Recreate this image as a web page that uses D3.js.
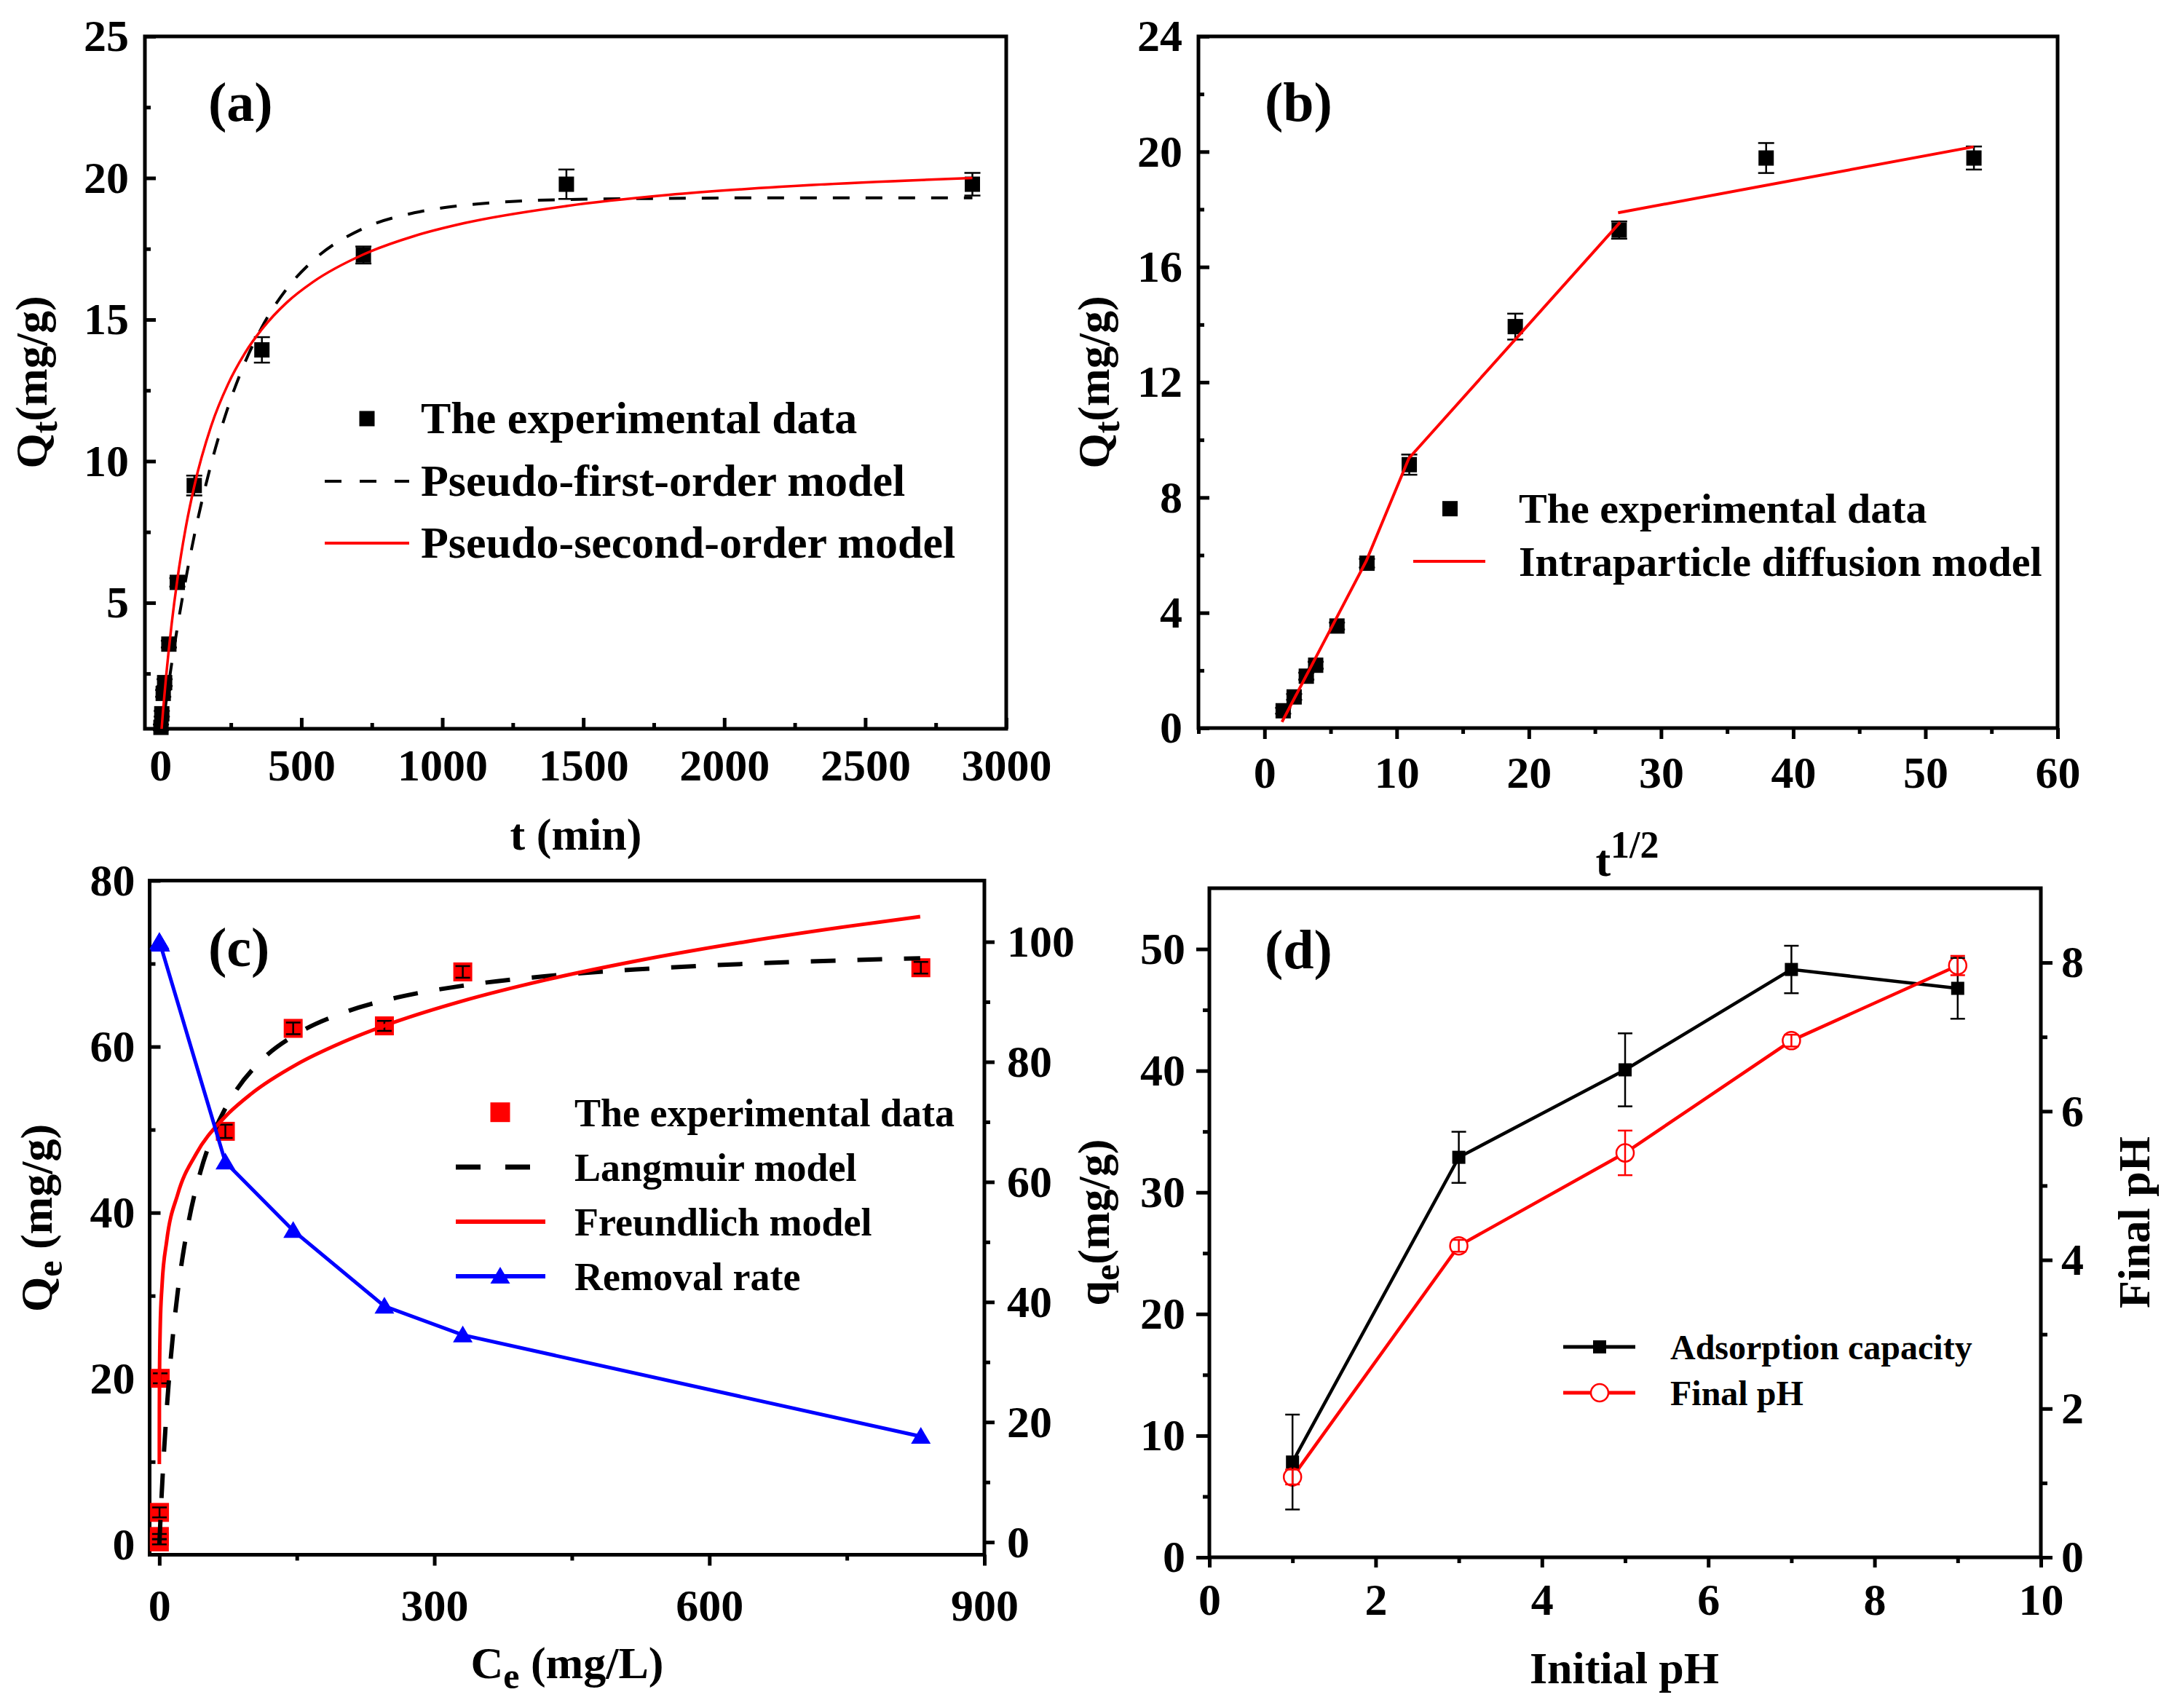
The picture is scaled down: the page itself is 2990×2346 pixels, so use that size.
<!DOCTYPE html>
<html><head><meta charset="utf-8">
<script src="https://cdn.jsdelivr.net/npm/d3@7"></script>
<style>
body{margin:0;background:#fff;}
svg{display:block;background:#fff;}
</style></head><body>
<svg id="fig" width="2990" height="2346"></svg>
<script>
// ================= DATA =================
// (a) kinetics
const kinT   = [2, 5, 10, 15, 30, 60, 120, 360, 720, 1440, 2880];
const kinQ   = [0.6, 1.08, 1.8, 2.18, 3.54, 5.72, 9.14, 13.93, 17.28, 19.78, 19.78];
const kinErr = [0.1, 0.1, 0.12, 0.12, 0.12, 0.15, 0.35, 0.45, 0.3, 0.52, 0.4];
const fitT   = [0, 10, 20, 40, 60, 90, 120, 180, 240, 300, 360, 450, 540, 720, 900, 1080, 1440, 1800, 2200, 2880];
const pfoQ   = [0, 0.76, 1.48, 2.85, 4.12, 5.83, 7.36, 9.90, 11.91, 13.49, 14.73, 16.11, 17.07, 18.22, 18.77, 19.04, 19.24, 19.28, 19.30, 19.30];
const psoQ   = [0, 1.26, 2.37, 4.26, 5.81, 7.66, 9.11, 11.24, 12.72, 13.82, 14.66, 15.62, 16.32, 17.30, 17.95, 18.41, 19.01, 19.40, 19.69, 20.00];
const aXTicks = [0, 500, 1000, 1500, 2000, 2500, 3000];
const aXMinor = [250, 750, 1250, 1750, 2250, 2750];
const aYTicks = [5, 10, 15, 20, 25];
const aYMinor = [2.5, 7.5, 12.5, 17.5, 22.5];

// (b) intraparticle diffusion
const sqrtT  = [1.41, 2.24, 3.16, 3.87, 5.48, 7.75, 10.95, 18.97, 26.83, 37.95, 53.67];
const ipd1X  = [1.32, 5.26, 7.7, 10.92, 26.9];
const ipd1Y  = [0.21, 3.66, 5.8, 9.36, 17.55];
const ipd2X  = [26.75, 53.65];
const ipd2Y  = [17.88, 20.17];
const bXTicks = [0, 10, 20, 30, 40, 50, 60];
const bXMinor = [-5, 5, 15, 25, 35, 45, 55];
const bYTicks = [0, 4, 8, 12, 16, 20, 24];
const bYMinor = [2, 6, 10, 14, 18, 22];

// (c) isotherm
const isoCe   = [0.02, 0.05, 0.2, 1.0, 72, 146, 245.5, 331, 830.7];
const isoQ    = [0.35, 1.0, 3.9, 20.05, 49.8, 62.2, 62.5, 69.0, 69.5];
const isoErr  = [0.3, 0.3, 0.6, 0.6, 0.8, 0.7, 0.6, 0.7, 0.7];
const removal = [100, 100, 99.9, 99.6, 63.3, 51.9, 39.3, 34.5, 17.6];
const langC   = [0, 1, 2, 4, 7, 10, 15, 20, 30, 45, 60, 80, 110, 150, 200, 260, 330, 420, 520, 640, 760, 830];
const langQ   = [0, 2.51, 4.86, 9.11, 14.58, 19.19, 25.44, 30.40, 37.74, 44.99, 49.77, 54.07, 58.20, 61.53, 64.05, 65.93, 67.32, 68.47, 69.30, 69.97, 70.44, 70.65];
const freuC   = [0.0017, 0.01, 0.05, 0.2, 1, 3, 8, 20, 40, 70, 100, 150, 200, 260, 330, 420, 520, 640, 760, 830];
const freuQ   = [9.71, 12.83, 16.50, 20.51, 26.39, 31.35, 36.56, 42.20, 47.05, 51.35, 54.30, 57.87, 60.53, 63.08, 65.48, 68.00, 70.31, 72.64, 74.62, 75.66];
const cXTicks = [0, 300, 600, 900];
const cXMinor = [150, 450, 750];
const cYTicks = [0, 20, 40, 60, 80];
const cYMinor = [10, 30, 50, 70];
const cY2Ticks = [0, 20, 40, 60, 80, 100];
const cY2Minor = [10, 30, 50, 70, 90];

// (d) pH effect
const pHinit   = [1, 3, 5, 7, 9];
const qeD      = [7.83, 32.88, 40.07, 48.32, 46.77];
const qeErr    = [3.9, 2.1, 3.0, 1.95, 2.5];
const finalPH  = [1.08, 4.19, 5.44, 6.95, 7.96];
const finalErr = [0.1, 0.08, 0.3, 0.08, 0.13];
const dXTicks = [0, 2, 4, 6, 8, 10];
const dXMinor = [1, 3, 5, 7, 9];
const dYTicks = [0, 10, 20, 30, 40, 50];
const dYMinor = [5, 15, 25, 35, 45];
const dY2Ticks = [0, 2, 4, 6, 8];
const dY2Minor = [1, 3, 5, 7];

// ================= DRAWING =================
const FONT = '"Times New Roman","Liberation Serif",serif';
const svg = d3.select("#fig");
const TICKFS = 62;

function styleAxis(a) {
  a.select(".domain").remove();
  a.attr("font-family", FONT).attr("font-size", TICKFS).attr("font-weight", "bold");
  a.selectAll("line").attr("stroke", "#000").attr("stroke-width", 5);
  a.selectAll("text").attr("fill", "#000");
}
function axis(g, gen, tr) {
  const a = g.append("g").attr("transform", tr).call(gen);
  styleAxis(a);
  return a;
}
function txt(g, x, y, s, fs, anchor) {
  return g.append("text").attr("x", x).attr("y", y).attr("font-family", FONT)
    .attr("font-weight", "bold").attr("font-size", fs).attr("text-anchor", anchor || "start")
    .attr("fill", "#000").text(s);
}
function makeClip(id, o) {
  svg.append("clipPath").attr("id", id).append("rect")
    .attr("x", o.x0).attr("y", o.y0).attr("width", o.x1 - o.x0).attr("height", o.y1 - o.y0);
}
function frame(g, o) {
  g.append("rect").attr("x", o.x0).attr("y", o.y0).attr("width", o.x1 - o.x0).attr("height", o.y1 - o.y0)
    .attr("fill", "none").attr("stroke", "#000").attr("stroke-width", 5);
}
function squares(g, xs, ys, sz, fill) {
  g.selectAll(null).data(xs.map((d, i) => [d, ys[i]])).enter().append("rect")
    .attr("x", d => d[0] - sz / 2).attr("y", d => d[1] - sz / 2)
    .attr("width", sz).attr("height", sz).attr("fill", fill);
}
function errbars(g, xs, ys, lo, hi, cap, color, sw) {
  const d = xs.map((x, i) => ({x, y: ys[i], lo: lo[i], hi: hi[i]}));
  const e = g.append("g").attr("stroke", color).attr("stroke-width", sw).attr("fill", "none");
  d.forEach(p => {
    e.append("line").attr("x1", p.x).attr("x2", p.x).attr("y1", p.lo).attr("y2", p.hi);
    e.append("line").attr("x1", p.x - cap / 2).attr("x2", p.x + cap / 2).attr("y1", p.lo).attr("y2", p.lo);
    e.append("line").attr("x1", p.x - cap / 2).attr("x2", p.x + cap / 2).attr("y1", p.hi).attr("y2", p.hi);
  });
}
function pathLine(g, xs, ys, x, y, curve, attrs, clip) {
  const pts = xs.map((d, i) => [x(d), y(ys[i])]);
  const p = g.append("path").attr("d", d3.line().curve(curve)(pts)).attr("fill", "none");
  if (clip) p.attr("clip-path", "url(#" + clip + ")");
  Object.entries(attrs).forEach(([k, v]) => p.attr(k, v));
  return p;
}
function triPath(cx, cy) {
  return `M${cx},${cy - 13}L${cx + 13.5},${cy + 10}L${cx - 13.5},${cy + 10}Z`;
}

// ---------- Panel (a) ----------
(function () {
  const o = {x0: 199, x1: 1382, y0: 50, y1: 1001};
  const g = svg.append("g");
  const x = d3.scaleLinear().domain([-55, 3000]).range([o.x0, o.x1]);
  const y = d3.scaleLinear().domain([0.55, 25]).range([o.y1, o.y0]);
  makeClip("clipA", o);
  frame(g, o);
  axis(g, d3.axisBottom(x).tickValues(aXTicks).tickSize(-15).tickPadding(27).tickFormat(d3.format("d")), `translate(0,${o.y1})`);
  axis(g, d3.axisBottom(x).tickValues(aXMinor).tickSize(-8).tickFormat(""), `translate(0,${o.y1})`);
  axis(g, d3.axisLeft(y).tickValues(aYTicks).tickSize(-15).tickPadding(22).tickFormat(d3.format("d")), `translate(${o.x0},0)`);
  axis(g, d3.axisLeft(y).tickValues(aYMinor).tickSize(-8).tickFormat(""), `translate(${o.x0},0)`);

  squares(g, kinT.map(x), kinQ.map(y), 21, "#000");
  errbars(g, kinT.map(x), kinQ.map(y), kinQ.map((q, i) => y(q - kinErr[i])), kinQ.map((q, i) => y(q + kinErr[i])), 22, "#000", 2.5);
  pathLine(g, fitT, pfoQ, x, y, d3.curveMonotoneX, {stroke: "#000", "stroke-width": 4, "stroke-dasharray": "23,22"}, "clipA");
  pathLine(g, fitT, psoQ, x, y, d3.curveMonotoneX, {stroke: "#ff0000", "stroke-width": 3.5}, "clipA");

  // legend
  g.append("rect").attr("x", 504 - 10.5).attr("y", 575 - 10.5).attr("width", 21).attr("height", 21).attr("fill", "#000");
  txt(g, 578, 595, "The experimental data", 62);
  g.append("line").attr("x1", 446).attr("x2", 562).attr("y1", 661).attr("y2", 661).attr("stroke", "#000").attr("stroke-width", 4).attr("stroke-dasharray", "23,25");
  txt(g, 578, 681, "Pseudo-first-order model", 62);
  g.append("line").attr("x1", 446).attr("x2", 562).attr("y1", 746).attr("y2", 746).attr("stroke", "#ff0000").attr("stroke-width", 4);
  txt(g, 578, 766, "Pseudo-second-order model", 62);

  txt(g, 286, 166, "(a)", 76);
  txt(g, 791, 1167, "t (min)", 62, "middle");
  const yl = g.append("text").attr("transform", "translate(64,525) rotate(-90)").attr("text-anchor", "middle")
    .attr("font-family", FONT).attr("font-weight", "bold").attr("font-size", 62).attr("fill", "#000");
  yl.append("tspan").text("Q");
  yl.append("tspan").attr("font-size", 50).attr("dy", 14).text("t");
  yl.append("tspan").attr("dy", -14).text("(mg/g)");
})();

// ---------- Panel (b) ----------
(function () {
  const o = {x0: 1646, x1: 2826, y0: 50, y1: 1000};
  const g = svg.append("g");
  const x = d3.scaleLinear().domain([-5, 60]).range([o.x0, o.x1]);
  const y = d3.scaleLinear().domain([0, 24]).range([o.y1, o.y0]);
  makeClip("clipB", o);
  frame(g, o);
  axis(g, d3.axisBottom(x).tickValues(bXTicks).tickSize(15).tickPadding(23).tickFormat(d3.format("d")), `translate(0,${o.y1})`);
  axis(g, d3.axisBottom(x).tickValues(bXMinor).tickSize(8).tickFormat(""), `translate(0,${o.y1})`);
  axis(g, d3.axisLeft(y).tickValues(bYTicks).tickSize(-15).tickPadding(22).tickFormat(d3.format("d")), `translate(${o.x0},0)`);
  axis(g, d3.axisLeft(y).tickValues(bYMinor).tickSize(-8).tickFormat(""), `translate(${o.x0},0)`);

  squares(g, sqrtT.map(x), kinQ.map(y), 21, "#000");
  errbars(g, sqrtT.map(x), kinQ.map(y), kinQ.map((q, i) => y(q - kinErr[i])), kinQ.map((q, i) => y(q + kinErr[i])), 22, "#000", 2.5);
  pathLine(g, ipd1X, ipd1Y, x, y, d3.curveLinear, {stroke: "#ff0000", "stroke-width": 4}, "clipB");
  pathLine(g, ipd2X, ipd2Y, x, y, d3.curveLinear, {stroke: "#ff0000", "stroke-width": 4}, "clipB");

  g.append("rect").attr("x", 1991.5 - 10.5).attr("y", 698.7 - 10.5).attr("width", 21).attr("height", 21).attr("fill", "#000");
  txt(g, 2086, 718, "The experimental data", 58);
  g.append("line").attr("x1", 1941).attr("x2", 2040).attr("y1", 771).attr("y2", 771).attr("stroke", "#ff0000").attr("stroke-width", 4);
  txt(g, 2086, 791, "Intraparticle diffusion model", 58);

  txt(g, 1737, 166, "(b)", 76);
  const xl = g.append("text").attr("x", 2235).attr("y", 1203).attr("text-anchor", "middle")
    .attr("font-family", FONT).attr("font-weight", "bold").attr("font-size", 62).attr("fill", "#000");
  xl.append("tspan").text("t");
  xl.append("tspan").attr("font-size", 52).attr("dy", -25).text("1/2");
  const yl = g.append("text").attr("transform", "translate(1523,525) rotate(-90)").attr("text-anchor", "middle")
    .attr("font-family", FONT).attr("font-weight", "bold").attr("font-size", 62).attr("fill", "#000");
  yl.append("tspan").text("Q");
  yl.append("tspan").attr("font-size", 50).attr("dy", 14).text("t");
  yl.append("tspan").attr("dy", -14).text("(mg/g)");
})();

// ---------- Panel (c) ----------
(function () {
  const o = {x0: 205.5, x1: 1352, y0: 1209.5, y1: 2135.5};
  const g = svg.append("g");
  const x = d3.scaleLinear().domain([-10.6, 900]).range([o.x0, o.x1]);
  const y = d3.scaleLinear().domain([-1.2, 80]).range([o.y1, o.y0]);
  const y2 = d3.scaleLinear().domain([-2.1, 110.2]).range([o.y1, o.y0]);
  makeClip("clipC", o);
  frame(g, o);
  axis(g, d3.axisBottom(x).tickValues(cXTicks).tickSize(15).tickPadding(31).tickFormat(d3.format("d")), `translate(0,${o.y1})`);
  axis(g, d3.axisBottom(x).tickValues(cXMinor).tickSize(8).tickFormat(""), `translate(0,${o.y1})`);
  axis(g, d3.axisLeft(y).tickValues(cYTicks).tickSize(-15).tickPadding(20).tickFormat(d3.format("d")), `translate(${o.x0},0)`);
  axis(g, d3.axisLeft(y).tickValues(cYMinor).tickSize(-8).tickFormat(""), `translate(${o.x0},0)`);
  axis(g, d3.axisRight(y2).tickValues(cY2Ticks).tickSize(14).tickPadding(17).tickFormat(d3.format("d")), `translate(${o.x1},0)`);
  axis(g, d3.axisRight(y2).tickValues(cY2Minor).tickSize(8).tickFormat(""), `translate(${o.x1},0)`);

  squares(g, isoCe.map(x), isoQ.map(y), 26, "#ff0000");
  errbars(g, isoCe.map(x), isoQ.map(y), isoQ.map((q, i) => y(q - isoErr[i])), isoQ.map((q, i) => y(q + isoErr[i])), 20, "#000", 2.5);
  pathLine(g, langC, langQ, x, y, d3.curveMonotoneX, {stroke: "#000", "stroke-width": 6, "stroke-dasharray": "34,30"}, "clipC");
  pathLine(g, freuC, freuQ, x, y, d3.curveMonotoneX, {stroke: "#ff0000", "stroke-width": 5}, "clipC");
  pathLine(g, isoCe, removal, x, y2, d3.curveLinear, {stroke: "#0000ff", "stroke-width": 5});
  g.selectAll(null).data(isoCe.map((c, i) => [x(c), y2(removal[i])])).enter().append("path")
    .attr("d", d => triPath(d[0], d[1])).attr("fill", "#0000ff");

  g.append("rect").attr("x", 687 - 13.5).attr("y", 1527.7 - 13.5).attr("width", 27).attr("height", 27).attr("fill", "#ff0000");
  txt(g, 789, 1547, "The experimental data", 54);
  g.append("line").attr("x1", 626).attr("x2", 749).attr("y1", 1603).attr("y2", 1603).attr("stroke", "#000").attr("stroke-width", 7).attr("stroke-dasharray", "34,34");
  txt(g, 789, 1622, "Langmuir model", 54);
  g.append("line").attr("x1", 626).attr("x2", 749).attr("y1", 1678).attr("y2", 1678).attr("stroke", "#ff0000").attr("stroke-width", 6);
  txt(g, 789, 1697, "Freundlich model", 54);
  g.append("line").attr("x1", 626).attr("x2", 749).attr("y1", 1753).attr("y2", 1753).attr("stroke", "#0000ff").attr("stroke-width", 6);
  g.append("path").attr("d", triPath(687, 1753)).attr("fill", "#0000ff");
  txt(g, 789, 1772, "Removal rate", 54);

  txt(g, 286, 1327, "(c)", 76);
  const xl = g.append("text").attr("x", 779).attr("y", 2305).attr("text-anchor", "middle")
    .attr("font-family", FONT).attr("font-weight", "bold").attr("font-size", 62).attr("fill", "#000");
  xl.append("tspan").text("C");
  xl.append("tspan").attr("font-size", 50).attr("dy", 14).text("e");
  xl.append("tspan").attr("dy", -14).text(" (mg/L)");
  const yl = g.append("text").attr("transform", "translate(71,1673) rotate(-90)").attr("text-anchor", "middle")
    .attr("font-family", FONT).attr("font-weight", "bold").attr("font-size", 62).attr("fill", "#000");
  yl.append("tspan").text("Q");
  yl.append("tspan").attr("font-size", 50).attr("dy", 14).text("e");
  yl.append("tspan").attr("dy", -14).text(" (mg/g)");
})();

// ---------- Panel (d) ----------
(function () {
  const o = {x0: 1661, x1: 2803, y0: 1220, y1: 2139};
  const g = svg.append("g");
  const x = d3.scaleLinear().domain([0, 10]).range([o.x0, o.x1]);
  const y = d3.scaleLinear().domain([0, 55]).range([o.y1, o.y0]);
  const y2 = d3.scaleLinear().domain([0, 9]).range([o.y1, o.y0]);
  frame(g, o);
  axis(g, d3.axisBottom(x).tickValues(dXTicks).tickSize(14).tickPadding(21).tickFormat(d3.format("d")), `translate(0,${o.y1})`);
  axis(g, d3.axisBottom(x).tickValues(dXMinor).tickSize(8).tickFormat(""), `translate(0,${o.y1})`);
  axis(g, d3.axisLeft(y).tickValues(dYTicks).tickSize(18).tickPadding(15).tickFormat(d3.format("d")), `translate(${o.x0},0)`);
  axis(g, d3.axisLeft(y).tickValues(dYMinor).tickSize(9).tickFormat(""), `translate(${o.x0},0)`);
  axis(g, d3.axisRight(y2).tickValues(dY2Ticks).tickSize(16).tickPadding(12).tickFormat(d3.format("d")), `translate(${o.x1},0)`);
  axis(g, d3.axisRight(y2).tickValues(dY2Minor).tickSize(9).tickFormat(""), `translate(${o.x1},0)`);

  pathLine(g, pHinit, qeD, x, y, d3.curveLinear, {stroke: "#000", "stroke-width": 4.5});
  pathLine(g, pHinit, finalPH, x, y2, d3.curveLinear, {stroke: "#ff0000", "stroke-width": 4.5});
  squares(g, pHinit.map(x), qeD.map(y), 18, "#000");
  g.selectAll(null).data(pHinit.map((p, i) => [x(p), y2(finalPH[i])])).enter().append("circle")
    .attr("cx", d => d[0]).attr("cy", d => d[1]).attr("r", 12).attr("fill", "#fff").attr("stroke", "#ff0000").attr("stroke-width", 2.5);
  errbars(g, pHinit.map(x), qeD.map(y), qeD.map((q, i) => y(q - qeErr[i])), qeD.map((q, i) => y(q + qeErr[i])), 20, "#000", 2.5);
  errbars(g, pHinit.map(x), finalPH.map(y2), finalPH.map((q, i) => y2(q - finalErr[i])), finalPH.map((q, i) => y2(q + finalErr[i])), 20, "#ff0000", 2.5);

  g.append("line").attr("x1", 2147).attr("x2", 2246).attr("y1", 1850).attr("y2", 1850).attr("stroke", "#000").attr("stroke-width", 5);
  g.append("rect").attr("x", 2197 - 9).attr("y", 1850 - 9).attr("width", 18).attr("height", 18).attr("fill", "#000");
  txt(g, 2294, 1867, "Adsorption capacity", 48);
  g.append("line").attr("x1", 2147).attr("x2", 2246).attr("y1", 1913).attr("y2", 1913).attr("stroke", "#ff0000").attr("stroke-width", 5);
  g.append("circle").attr("cx", 2197).attr("cy", 1913).attr("r", 12).attr("fill", "#fff").attr("stroke", "#ff0000").attr("stroke-width", 2.5);
  txt(g, 2294, 1930, "Final pH", 48);

  txt(g, 1737, 1330, "(d)", 76);
  txt(g, 2231, 2312, "Initial pH", 62, "middle");
  const yl = g.append("text").attr("transform", "translate(1523,1679) rotate(-90)").attr("text-anchor", "middle")
    .attr("font-family", FONT).attr("font-weight", "bold").attr("font-size", 62).attr("fill", "#000");
  yl.append("tspan").text("q");
  yl.append("tspan").attr("font-size", 50).attr("dy", 14).text("e");
  yl.append("tspan").attr("dy", -14).text("(mg/g)");
  g.append("text").attr("transform", "translate(2952,1679) rotate(-90)").attr("text-anchor", "middle")
    .attr("font-family", FONT).attr("font-weight", "bold").attr("font-size", 62).attr("fill", "#000").text("Final pH");
})();
</script>
</body></html>
